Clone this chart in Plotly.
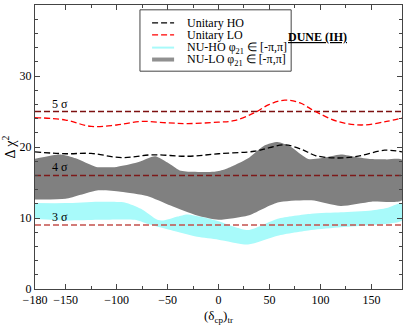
import plotly.graph_objects as go

# Unitary curves
lo_x = [-180, -150, -125, -100, -75, -50, -30, 0, 15, 35, 50, 65, 80, 95, 117, 140, 165, 180]
lo_y = [24.15, 23.8, 22.9, 23.1, 23.6, 23.4, 23.3, 23.5, 23.7, 24.8, 26.0, 26.6, 26.2, 25.0, 23.6, 23.1, 23.6, 24.1]

ho_x = [-180, -150, -125, -95, -65, -30, 0, 35, 50, 65, 82, 95, 117, 137, 163, 180]
ho_y = [19.3, 19.05, 19.1, 18.5, 18.9, 18.7, 19.05, 19.4, 19.9, 20.3, 19.65, 18.8, 18.45, 18.7, 19.55, 19.3]

# NU-LO band (gray)
nulo_up_x = [-180, -155, -140, -120, -100, -80, -62, -50, -38, -25, -5, 5, 15, 30, 45, 58, 70, 88, 100, 120, 135, 150, 165, 180]
nulo_up_y = [18.35, 18.95, 18.4, 17.2, 17.2, 17.8, 18.7, 17.8, 16.7, 16.5, 16.5, 16.8, 17.4, 18.5, 20.2, 20.7, 20.1, 18.3, 18.4, 18.95, 18.6, 18.3, 18.25, 18.2]
nulo_lo_x = [-180, -150, -118, -96, -70, -47, -21, 0, 29, 58, 91, 120, 150, 180]
nulo_lo_y = [12.6, 12.7, 13.9, 13.7, 13.1, 11.75, 10.35, 9.75, 10.35, 12.2, 12.5, 11.7, 12.3, 12.5]

# NU-HO band (cyan)
nuho_up_x = [-180, -150, -118, -92, -76, -60, -54, -40, -31, -15, 0, 29, 58, 91, 120, 150, 165, 180]
nuho_up_y = [12.1, 12.1, 12.3, 12.2, 11.3, 9.75, 9.65, 10.2, 10.5, 10.1, 9.55, 8.3, 9.9, 10.6, 10.8, 11.05, 11.4, 12.1]
nuho_lo_x = [-180, -150, -118, -82, -70, -47, -21, 0, 29, 58, 91, 120, 150, 180]
nuho_lo_y = [9.9, 9.65, 9.75, 9.75, 9.2, 8.3, 7.35, 6.95, 6.27, 7.5, 8.3, 8.7, 9.0, 9.65]

# sigma levels
sig_vals = [25, 16, 9]
sig_labels = ["5 σ", "4 σ", "3 σ"]
sig_colors = ["#7d1010", "#7d1a1a", "#c4504c"]

legend_names = ["Unitary HO", "Unitary LO", "NU-HO φ<sub>21</sub> ∈ [-π,π]", "NU-LO φ<sub>21</sub> ∈ [-π,π]"]

FONT = "Liberation Serif, Times New Roman, serif"
CYAN = "#a8fafa"

fig = go.Figure()

# bands
fig.add_trace(go.Scatter(x=nuho_up_x + nuho_lo_x[::-1], y=nuho_up_y + nuho_lo_y[::-1],
                         fill="toself", fillcolor=CYAN, mode="lines",
                         line=dict(width=0, shape="spline", smoothing=0.6), showlegend=False, hoverinfo="skip"))
fig.add_trace(go.Scatter(x=nulo_up_x + nulo_lo_x[::-1], y=nulo_up_y + nulo_lo_y[::-1],
                         fill="toself", fillcolor="#808080", mode="lines",
                         line=dict(width=0, shape="spline", smoothing=0.6), showlegend=False, hoverinfo="skip"))

# sigma lines
for v, c in zip(sig_vals, sig_colors):
    fig.add_trace(go.Scatter(x=[-180, 180], y=[v, v], mode="lines",
                             line=dict(color=c, width=1.5, dash="6px,3px"), showlegend=False, hoverinfo="skip"))

# unitary curves
fig.add_trace(go.Scatter(x=ho_x, y=ho_y, mode="lines", showlegend=False,
                         line=dict(color="black", width=1.3, dash="6px,3px", shape="spline")))
fig.add_trace(go.Scatter(x=lo_x, y=lo_y, mode="lines", showlegend=False,
                         line=dict(color="red", width=1.3, dash="6px,3px", shape="spline")))

for v, t in zip(sig_vals, sig_labels):
    fig.add_annotation(x=-155, y=v, text=t, showarrow=False, yanchor="bottom", yshift=-1,
                       font=dict(family=FONT, size=12, color="black"))

fig.add_annotation(x=0.855, y=0.92, xref="paper", yref="paper", text="<b><u>DUNE (IH)</u></b>",
                   showarrow=False, font=dict(family=FONT, size=12, color="black"))

# hand-made legend box
fig.add_shape(type="rect", xref="paper", yref="paper", x0=0.286, x1=0.698, y0=0.767, y1=0.983,
              line=dict(color="#444", width=1), fillcolor="white", layer="above")
row_y = [0.937, 0.895, 0.85, 0.808]
row_style = [dict(color="black", width=1.3, dash="6px,3px"),
             dict(color="red", width=1.3, dash="6px,3px"),
             dict(color=CYAN, width=2),
             dict(color="#909090", width=4)]
for ry, st, nm in zip(row_y, row_style, legend_names):
    fig.add_shape(type="line", xref="paper", yref="paper", x0=0.319, x1=0.379, y0=ry, y1=ry,
                  line=st, layer="above")
    fig.add_annotation(x=0.409, y=ry, xref="paper", yref="paper", text=nm, showarrow=False,
                       xanchor="left", yanchor="middle", font=dict(family=FONT, size=12, color="black"))

fig.update_layout(
    width=407, height=325,
    margin=dict(l=35, r=5, t=4, b=34),
    paper_bgcolor="white", plot_bgcolor="white",
    font=dict(family=FONT, size=12, color="black"),
    showlegend=False,
)
fig.update_xaxes(range=[-180, 180], tickvals=[-180, -150, -100, -50, 0, 50, 100, 150, 180],
                 ticks="inside", ticklen=5, tickcolor="#444", showline=True, linecolor="#444",
                 mirror="ticks", showgrid=False, zeroline=False,
                 minor=dict(tickvals=[-125, -75, -25, 25, 75, 125], ticks="inside", ticklen=3, tickcolor="#444"),
                 title=dict(text="(δ<sub>cp</sub>)<sub>tr</sub>", standoff=4, font=dict(size=13)))
fig.update_yaxes(range=[0, 40], dtick=10, ticks="inside", ticklen=5, tickcolor="#444", showline=True,
                 linecolor="#444", mirror="ticks", showgrid=False, zeroline=False,
                 minor=dict(dtick=2, ticks="inside", ticklen=3, tickcolor="#444"),
                 title=dict(text="Δ χ<sup>2</sup>", standoff=2, font=dict(size=14)))

fig.write_html("out.html", config={"displayModeBar": False},
               post_script="document.body.style.margin='0';")
